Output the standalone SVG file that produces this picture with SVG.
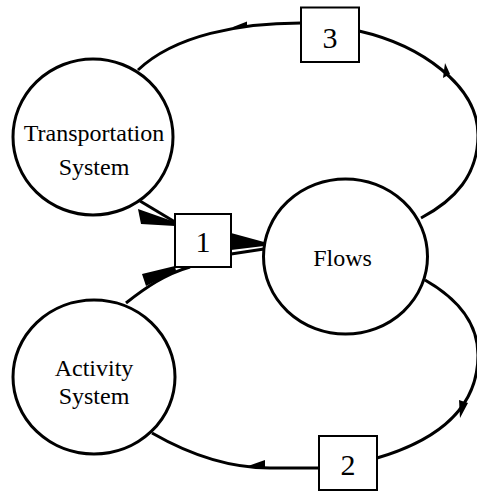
<svg xmlns="http://www.w3.org/2000/svg" width="477" height="491" viewBox="0 0 477 491">
  <style>
    .node { fill: #ffffff; stroke: #000000; stroke-width: 3; }
    .box { fill: #ffffff; stroke: #000000; stroke-width: 2; }
    .lbl { font-family: "Liberation Serif", "Times New Roman", serif; font-size: 24px; fill: #000000; text-anchor: middle; }
    .num { font-family: "Liberation Serif", "Times New Roman", serif; font-size: 30px; fill: #000000; text-anchor: middle; }
    .edge { fill: none; stroke: #000000; stroke-width: 3; }
    .head { fill: #000000; stroke: none; }
  </style>
  <rect width="477" height="491" fill="#ffffff"/>
  <g id="connectors">
    <!-- top loop: Flows -> 3 -> Transportation -->
    <path class="edge" d="M421,218 C455,200 478,175 478,135 C478,85 420,45 359,31"/>
    <path class="edge" d="M301,23 C240,23 175,35 138,70"/>
    <polygon class="head" points="445,63 450,74 443,78"/>
    <polygon class="head" points="233,27 247,21.5 247,28"/>
    <!-- bottom loop: Flows -> 2 -> Activity -->
    <path class="edge" d="M425,280 C460,300 478,325 478,355 C478,395 455,435 377,458"/>
    <path class="edge" d="M319,468 L270,468 C225,468 185,452 152,433"/>
    <polygon class="head" points="460,418 459,400 468,403"/>
    <polygon class="head" points="248,466 265,460 265,468"/>
    <!-- into box 1 -->
    <path class="edge" d="M140,201 L175,222"/>
    <polygon class="head" points="138,209 141,224 175,226 175,222"/>
    <path class="edge" d="M126,303 C145,288 165,274 190,267"/>
    <polygon class="head" points="142,274 146,286 176,271 175,266"/>
    <!-- box 1 -> Flows -->
    <polygon class="head" points="231,233 264,242 264,246 231,250"/>
    <path class="edge" d="M231,254 L264,249"/>
  </g>
  <g id="transportation-system">
    <ellipse class="node" cx="93" cy="137" rx="80" ry="78"/>
    <text class="lbl" x="94" y="140.5">Transportation</text>
    <text class="lbl" x="94" y="175">System</text>
  </g>
  <g id="activity-system">
    <ellipse class="node" cx="94" cy="377" rx="81" ry="77"/>
    <text class="lbl" x="94" y="376">Activity</text>
    <text class="lbl" x="94" y="404">System</text>
  </g>
  <g id="flows">
    <ellipse class="node" cx="345.5" cy="256.5" rx="82" ry="77.5"/>
    <text class="lbl" x="342.5" y="266">Flows</text>
  </g>
  <g id="box-1">
    <rect class="box" x="175" y="214" width="56" height="53"/>
    <text class="num" x="203" y="252">1</text>
  </g>
  <g id="box-2">
    <rect class="box" x="319" y="436" width="58" height="54"/>
    <text class="num" x="348" y="475">2</text>
  </g>
  <g id="box-3">
    <rect class="box" x="301" y="7.5" width="58" height="54.5"/>
    <text class="num" x="330" y="48">3</text>
  </g>
</svg>
